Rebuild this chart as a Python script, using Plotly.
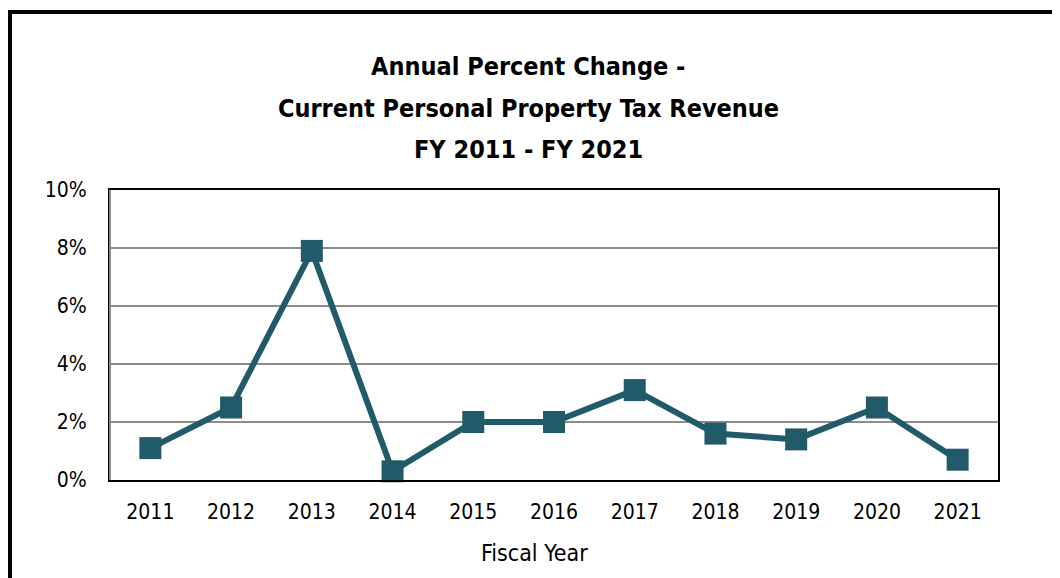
import plotly.graph_objects as go

years = ["2011", "2012", "2013", "2014", "2015", "2016", "2017", "2018", "2019", "2020", "2021"]
pct_change = [1.1, 2.5, 7.9, 0.3, 2.0, 2.0, 3.1, 1.6, 1.4, 2.5, 0.7]
y_ticks = [0, 2, 4, 6, 8, 10]
y_tick_labels = ["0%", "2%", "4%", "6%", "8%", "10%"]
title_lines = ["Annual Percent Change -", "Current Personal Property Tax Revenue", "FY 2011 - FY 2021"]
x_title = "Fiscal Year"

FONT = "DejaVu Sans Condensed, Liberation Sans Narrow, sans-serif"
COLOR = "#215B6A"

# page is drawn with an 8px body margin
OX, OY = 8, 8
W, H = 1060 - OX, 578 - OY
PL, PR, PT, PB = 110, 998, 190, 480  # plot area in page pixels
L, R, T, B = PL - OX, W - (PR - OX), PT - OY, H - (PB - OY)
pw, ph = PR - PL, PB - PT


def px(x):
    return (x - PL) / pw


def py(y):
    return (PB - y) / ph


fig = go.Figure()
fig.add_trace(go.Scatter(
    x=years, y=pct_change, mode="lines+markers",
    line=dict(color=COLOR, width=6),
    marker=dict(symbol="square", size=22, color=COLOR),
    cliponaxis=False, showlegend=False,
))

fig.update_layout(
    width=W, height=H,
    margin=dict(l=L, r=R, t=T, b=B, pad=0),
    paper_bgcolor="white", plot_bgcolor="white",
    font=dict(family=FONT, color="black"),
    xaxis=dict(
        type="category", range=[-0.5, 10.5],
        showgrid=False, showline=True, linecolor="black", linewidth=2, mirror=True,
        ticks="", tickfont=dict(size=21, family=FONT), ticklabelstandoff=12,
        zeroline=False,
    ),
    yaxis=dict(
        range=[0, 10], tickvals=y_ticks, ticktext=y_tick_labels,
        showgrid=True, gridcolor="#8c8c8c", gridwidth=2,
        showline=True, linecolor="black", linewidth=2, mirror=True,
        ticks="", tickfont=dict(size=21, family=FONT), ticklabelstandoff=17,
        zeroline=False,
    ),
)

# title lines
for text, yc in zip(title_lines, [66, 108, 149]):
    fig.add_annotation(text=f"<b>{text}</b>", xref="paper", yref="paper",
                       x=px(528), y=py(yc), xanchor="center", yanchor="middle",
                       showarrow=False, font=dict(family=FONT, size=25, color="black"))

# x-axis title
fig.add_annotation(text=x_title, xref="paper", yref="paper",
                   x=px(534), y=py(553), xanchor="center", yanchor="middle",
                   showarrow=False, font=dict(family=FONT, size=23, color="black"))

# gray left axis line overlay
fig.add_shape(type="line", xref="paper", yref="paper", x0=0, x1=0, y0=0, y1=1,
              line=dict(color="#8c8c8c", width=2))

# outer frame
fig.add_shape(type="rect", xref="paper", yref="paper",
              x0=px(10), x1=px(1058), y0=py(620), y1=py(12),
              line=dict(color="black", width=4), layer="below")

fig.write_html("out.html")
